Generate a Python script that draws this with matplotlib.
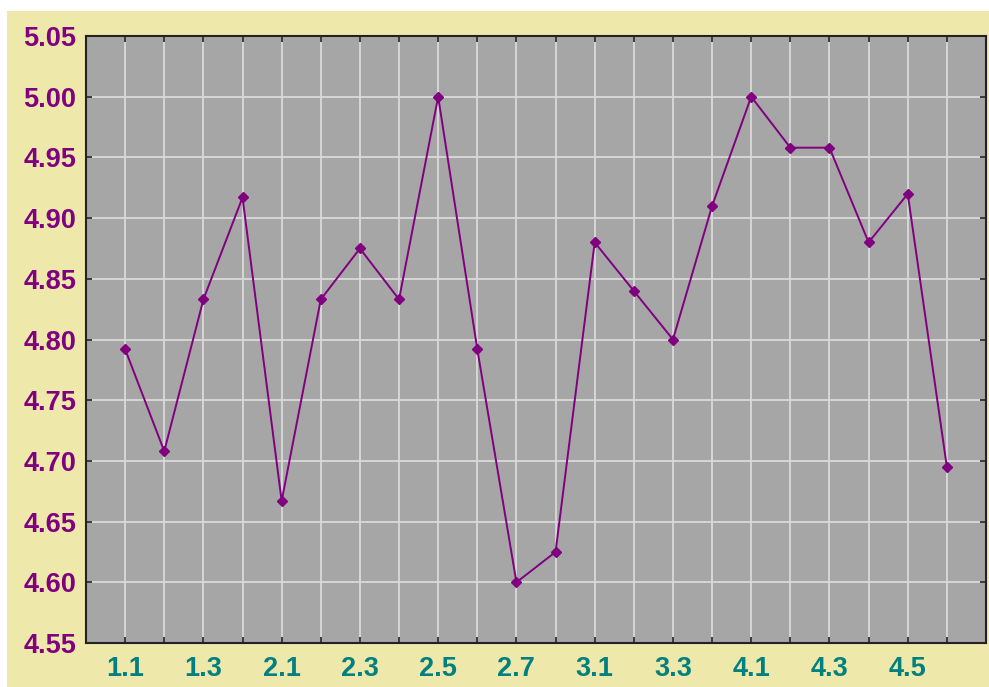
import matplotlib
matplotlib.use("Agg")
import matplotlib.pyplot as plt
from matplotlib.patches import Rectangle

# Category labels and values
categories = ["1.1", "1.2", "1.3", "1.4",
              "2.1", "2.2", "2.3", "2.4", "2.5", "2.6", "2.7", "2.8",
              "3.1", "3.2", "3.3", "3.4",
              "4.1", "4.2", "4.3", "4.4", "4.5", "4.6"]
values = [4.792, 4.708, 4.833, 4.917,
          4.667, 4.833, 4.875, 4.833, 5.000, 4.792, 4.600, 4.625,
          4.880, 4.840, 4.800, 4.910,
          5.000, 4.958, 4.958, 4.880, 4.920, 4.695]
y_ticks = [4.55, 4.60, 4.65, 4.70, 4.75, 4.80, 4.85, 4.90, 4.95, 5.00, 5.05]

W, H = 989, 687
fig = plt.figure(figsize=(W / 100, H / 100), dpi=100, facecolor="white")

# beige panel (small white strip on top and left)
fig.patches.append(Rectangle((7 / W, 0), 1 - 7 / W, 1 - 11 / H,
                             transform=fig.transFigure, facecolor="#EEE8AA",
                             edgecolor="none", zorder=-10))

left, right, top, bottom = 86, 986, 36, 643
ax = fig.add_axes([left / W, 1 - bottom / H, (right - left) / W, (bottom - top) / H])
ax.set_zorder(5)
ax.set_facecolor("#A6A6A6")

x = list(range(len(categories)))
ax.plot(x, values, color="#800080", linewidth=1.4, marker="D",
        markersize=5.5, zorder=3)

ax.set_xlim(-1, len(categories))
ax.set_ylim(4.55, 5.05)
ax.set_yticks(y_ticks)
ax.set_yticklabels([f"{v:.2f}" for v in y_ticks])
ax.set_xticks(x)
ax.set_xticklabels([c if i % 2 == 0 else "" for i, c in enumerate(categories)])

ax.grid(True, color="#D9D9D9", linewidth=1.3)
ax.set_axisbelow(True)

ax.tick_params(axis="both", direction="in", length=4, width=1.2, color="#222222",
               top=True, right=True)
ax.tick_params(axis="y", labelsize=19.5, labelcolor="#800080", pad=7)
ax.tick_params(axis="x", labelsize=19.5, labelcolor="#008080", pad=9)
for lab in ax.get_xticklabels() + ax.get_yticklabels():
    lab.set_fontweight("bold")
    lab.set_fontfamily("Liberation Sans")

for sp in ax.spines.values():
    sp.set_color("#222222")
    sp.set_linewidth(1.5)

fig.savefig("out.png", dpi=100, facecolor=fig.get_facecolor())
